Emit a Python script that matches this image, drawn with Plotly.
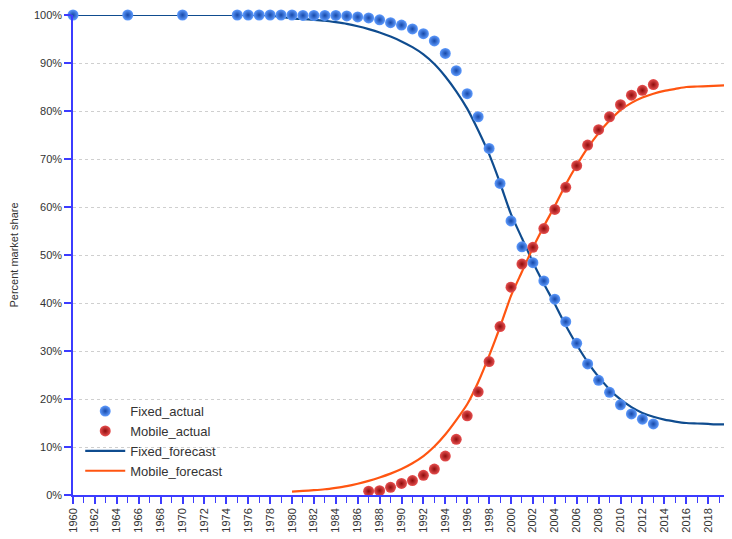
import plotly.graph_objects as go

# ---------------- data ----------------
fixed_actual_years = [1960, 1965, 1970, 1975, 1976, 1977, 1978, 1979, 1980, 1981, 1982, 1983,
                      1984, 1985, 1986, 1987, 1988, 1989, 1990, 1991, 1992, 1993, 1994, 1995,
                      1996, 1997, 1998, 1999, 2000, 2001, 2002, 2003, 2004, 2005, 2006, 2007,
                      2008, 2009, 2010, 2011, 2012, 2013]
fixed_actual = [100, 100, 100, 100, 100, 100, 100, 100, 100, 99.9, 99.9, 99.9,
                99.9, 99.8, 99.6, 99.4, 99.0, 98.4, 97.9, 97.1, 96.1, 94.6, 92.0, 88.4,
                83.6, 78.8, 72.2, 64.9, 57.1, 51.7, 48.4, 44.6, 40.8, 36.1, 31.6, 27.3,
                23.9, 21.4, 18.8, 16.9, 15.8, 14.8]

mobile_actual_years = [1987, 1988, 1989, 1990, 1991, 1992, 1993, 1994, 1995, 1996, 1997,
                       1998, 1999, 2000, 2001, 2002, 2003, 2004, 2005, 2006, 2007, 2008,
                       2009, 2010, 2011, 2012, 2013]
mobile_actual = [0.8, 0.9, 1.6, 2.4, 3.0, 4.1, 5.4, 8.1, 11.6, 16.5, 21.5,
                 27.8, 35.1, 43.3, 48.1, 51.6, 55.5, 59.5, 64.1, 68.6, 72.9, 76.1,
                 78.8, 81.3, 83.3, 84.3, 85.5]

fixed_forecast_years = list(range(1960, 2021))
fixed_forecast = [100, 100, 100, 100, 100, 100, 100, 100, 100, 100,
                  100, 100, 100, 100, 100, 100, 100, 100, 99.9, 99.6,
                  99.3, 99.15, 99.0, 98.8, 98.5, 98.15, 97.65, 97.05, 96.35, 95.5,
                  94.5, 93.3, 91.8, 89.8, 87.2, 84.1, 80.5, 76.0, 71.0, 65.0,
                  58.5, 53.5, 48.5, 44.0, 39.8, 35.3, 31.3, 27.7, 24.6, 22.0,
                  19.9, 18.3, 17.1, 16.3, 15.7, 15.3, 15.0, 14.9, 14.8, 14.7,
                  14.7]

mobile_forecast_years = list(range(1980, 2021))
mobile_forecast = [0.7, 0.85, 1.0, 1.2, 1.5, 1.85, 2.35, 2.95, 3.65, 4.45,
                   5.4, 6.6, 8.1, 10.1, 12.6, 15.6, 18.9, 23.5, 29.0, 35.0,
                   41.5, 46.5, 51.5, 56.0, 60.2, 64.7, 68.7, 72.3, 75.4, 78.0,
                   80.2, 81.7, 82.8, 83.6, 84.2, 84.6, 85.0, 85.1, 85.2, 85.3,
                   85.4]

x_tick_labels = [str(y) for y in range(1960, 2021, 2)]
y_tick_values = list(range(0, 101, 10))
y_tick_labels = [f"{v}%" for v in y_tick_values]

# ---------------- figure ----------------
font_family = "Liberation Sans, Arial, sans-serif"
axis_blue = "#3c3cff"

fig = go.Figure()

fig.add_trace(go.Scatter(
    x=fixed_forecast_years, y=fixed_forecast, mode="lines", name="Fixed_forecast",
    line=dict(color="#0f4c8f", width=2.2, shape="spline", smoothing=0.6),
    legendrank=3, cliponaxis=False))
fig.add_trace(go.Scatter(
    x=mobile_forecast_years, y=mobile_forecast, mode="lines", name="Mobile_forecast",
    line=dict(color="#ff5511", width=2.2, shape="spline", smoothing=0.6),
    legendrank=4, cliponaxis=False))
fig.add_trace(go.Scatter(
    x=fixed_actual_years, y=fixed_actual, mode="markers", name="Fixed_actual",
    marker=dict(size=11, color="#5f9cff",
                gradient=dict(type="radial", color="#1648a8"),
                line=dict(width=0)),
    legendrank=1, cliponaxis=False))
fig.add_trace(go.Scatter(
    x=mobile_actual_years, y=mobile_actual, mode="markers", name="Mobile_actual",
    marker=dict(size=11, color="#e85050",
                gradient=dict(type="radial", color="#8e0c0c"),
                line=dict(width=0)),
    legendrank=2, cliponaxis=False))

# The page body adds an 8px offset; margins compensate so the plot area
# lands where it is in the reference window.
fig.update_layout(
    width=732, height=539,
    margin=dict(l=65, r=10, t=7, b=52, autoexpand=False),
    paper_bgcolor="white", plot_bgcolor="white",
    font=dict(family=font_family, size=11, color="#333333"),
    showlegend=True,
    legend=dict(x=0.011, y=0.206, xanchor="left", yanchor="top",
                bgcolor="rgba(0,0,0,0)", font=dict(size=13, color="#333333"),
                tracegroupgap=0, itemwidth=40),
)

fig.update_xaxes(
    range=[1960, 2020], tickmode="array",
    tickvals=list(range(1960, 2021, 2)), ticktext=x_tick_labels,
    tickangle=-90, ticks="outside", ticklen=7, tickcolor=axis_blue, tickwidth=1.5,
    minor=dict(dtick=1, ticks="outside", ticklen=6, tickcolor=axis_blue, tickwidth=1, showgrid=False),
    showline=True, linecolor=axis_blue, linewidth=1.5,
    showgrid=False, zeroline=False,
    tickfont=dict(size=11, color="#333333"),
)
fig.update_yaxes(
    range=[0, 100], tickmode="array", tickvals=y_tick_values, ticktext=y_tick_labels,
    ticks="outside", ticklen=7, tickcolor=axis_blue, tickwidth=1.5,
    showline=True, linecolor=axis_blue, linewidth=1.5,
    showgrid=True, gridcolor="#cfcfcf", griddash="dot", gridwidth=1,
    zeroline=False,
    title=dict(text="Percent market share", font=dict(size=11, color="#333333"), standoff=13),
    tickfont=dict(size=11, color="#333333"),
)

fig.write_html("out.html")
